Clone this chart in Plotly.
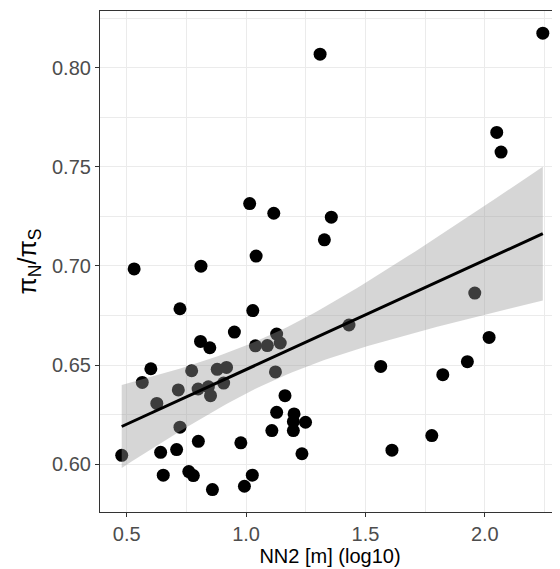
import numpy as np
import plotly.graph_objects as go

# data: NN2 distance (log10) vs piN/piS
nn2_log10 = [0.479, 0.531, 0.565, 0.601, 0.626, 0.642, 0.653, 0.709, 0.716, 0.723,
             0.723, 0.760, 0.772, 0.779, 0.799, 0.800, 0.809, 0.811, 0.842, 0.848,
             0.851, 0.859, 0.879, 0.906, 0.918, 0.951, 0.978, 0.993, 1.015, 1.026,
             1.028, 1.039, 1.042, 1.089, 1.108, 1.116, 1.123, 1.128, 1.128, 1.143,
             1.163, 1.198, 1.198, 1.201, 1.234, 1.249, 1.310, 1.328, 1.357, 1.431,
             1.564, 1.611, 1.778, 1.824, 1.927, 1.958, 2.018, 2.050, 2.068, 2.243]
piN_piS = [0.6044, 0.6985, 0.6412, 0.6481, 0.6306, 0.6059, 0.5944, 0.6073, 0.6374, 0.6784,
           0.6186, 0.5962, 0.6471, 0.5942, 0.6379, 0.6115, 0.6619, 0.6999, 0.6390, 0.6587,
           0.6345, 0.5871, 0.6478, 0.6409, 0.6488, 0.6666, 0.6107, 0.5888, 0.7315, 0.5944,
           0.6775, 0.6597, 0.7050, 0.6598, 0.6169, 0.7266, 0.6465, 0.6656, 0.6261, 0.6611,
           0.6345, 0.6214, 0.6169, 0.6253, 0.6052, 0.6211, 0.8069, 0.7132, 0.7246, 0.6702,
           0.6493, 0.6070, 0.6144, 0.6451, 0.6517, 0.6863, 0.6639, 0.7674, 0.7575, 0.8175]
x_ticks = [0.5, 1.0, 1.5, 2.0]
x_tick_labels = ["0.5", "1.0", "1.5", "2.0"]
y_ticks = [0.60, 0.65, 0.70, 0.75, 0.80]
y_tick_labels = ["0.60", "0.65", "0.70", "0.75", "0.80"]

# linear model fit with 95% confidence band (like geom_smooth(method="lm"))
x = np.array(nn2_log10)
y = np.array(piN_piS)
n = len(x)
b1, b0 = np.polyfit(x, y, 1)
resid = y - (b0 + b1 * x)
s = np.sqrt(np.sum(resid ** 2) / (n - 2))
t_crit = 2.0017  # t(0.975, df=58)
xg = np.linspace(x.min(), x.max(), 80)
yg = b0 + b1 * xg
se = s * np.sqrt(1.0 / n + (xg - x.mean()) ** 2 / np.sum((x - x.mean()) ** 2))
upper = yg + t_crit * se
lower = yg - t_crit * se

fig = go.Figure()
fig.add_trace(go.Scatter(x=nn2_log10, y=piN_piS, mode="markers",
                         marker=dict(color="black", size=13, line=dict(width=0)),
                         hoverinfo="x+y", showlegend=False))
fig.add_trace(go.Scatter(x=np.concatenate([xg, xg[::-1]]), y=np.concatenate([upper, lower[::-1]]),
                         fill="toself", fillcolor="rgba(153,153,153,0.4)", mode="lines",
                         line=dict(width=0), hoverinfo="skip", showlegend=False))
fig.add_trace(go.Scatter(x=xg, y=yg, mode="lines", line=dict(color="black", width=3),
                         hoverinfo="skip", showlegend=False))

grid_major = "#EBEBEB"
fig.update_layout(
    width=552, height=561,
    margin=dict(l=92, r=0, t=3, b=57, autoexpand=False),
    plot_bgcolor="white", paper_bgcolor="white",
    font=dict(family="Liberation Sans, Arial, sans-serif"),
    xaxis=dict(range=[0.388, 2.315], tickvals=x_ticks, ticktext=x_tick_labels,
               showgrid=True, gridcolor=grid_major, gridwidth=1.3,
               minor=dict(tickvals=[0.75, 1.25, 1.75, 2.25], showgrid=True,
                          gridcolor=grid_major, gridwidth=0.7, ticks=""),
               showline=True, linecolor="#333333", linewidth=1.2, mirror=True,
               ticks="outside", ticklen=4, tickcolor="#333333", tickwidth=1.2,
               tickfont=dict(size=20, color="#4D4D4D"),
               title=dict(text="NN2 [m] (log10)", font=dict(size=20, color="black"), standoff=3),
               zeroline=False, automargin=False),
    yaxis=dict(range=[0.5758, 0.8287], tickvals=y_ticks, ticktext=y_tick_labels,
               showgrid=True, gridcolor=grid_major, gridwidth=1.3,
               minor=dict(tickvals=[0.575, 0.625, 0.675, 0.725, 0.775, 0.825], showgrid=True,
                          gridcolor=grid_major, gridwidth=0.7, ticks=""),
               showline=True, linecolor="#333333", linewidth=1.2, mirror=False,
               ticks="outside", ticklen=4, tickcolor="#333333", tickwidth=1.2,
               tickfont=dict(size=20, color="#4D4D4D"),
               title=dict(text="π<sub>N</sub>/π<sub>S</sub>", font=dict(size=25, color="black"), standoff=8),
               zeroline=False, automargin=False),
)

fig.write_html("out.html")
